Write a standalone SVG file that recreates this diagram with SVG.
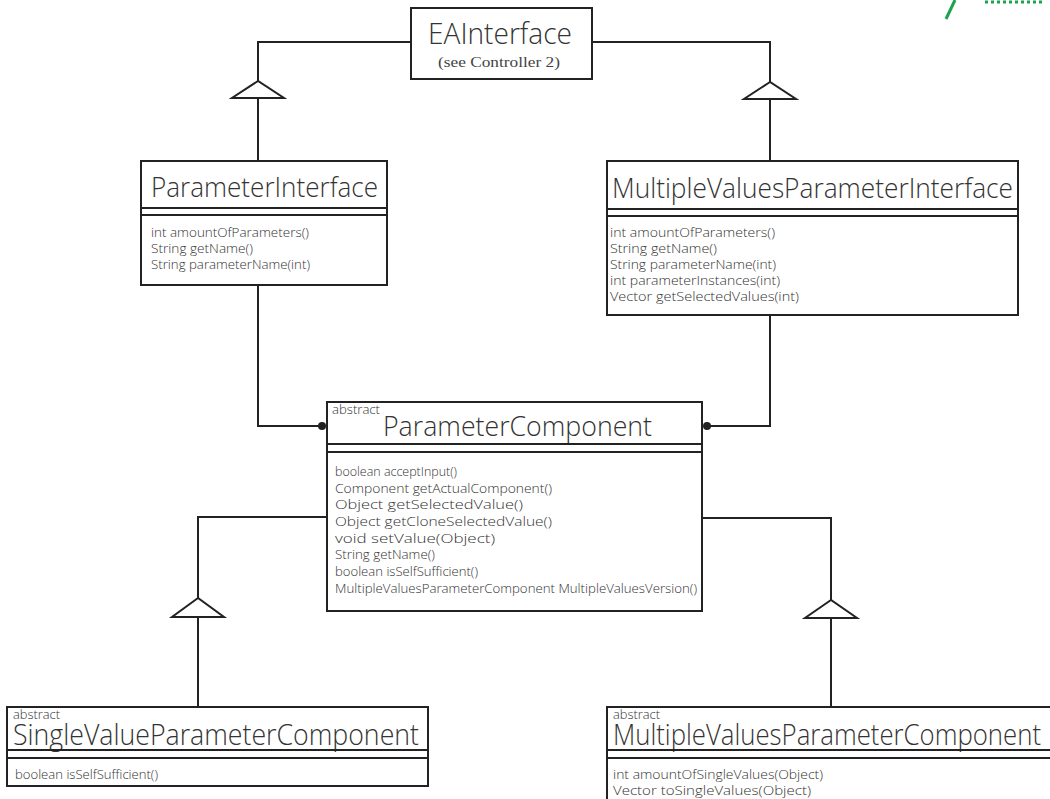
<svg xmlns="http://www.w3.org/2000/svg" width="1050" height="799" viewBox="0 0 1050 799">
<style>
.box{fill:#fff;stroke:#222;stroke-width:2}
.ln{fill:none;stroke:#222;stroke-width:2}
.tri{fill:#fff;stroke:#222;stroke-width:2;stroke-linejoin:miter}
.title{font-family:"Open Sans","Lato",sans-serif;font-weight:300;fill:#333}
.m{font-family:"Open Sans","Lato",sans-serif;font-weight:300;font-size:12.5px;fill:#333}
.abs{font-family:"Open Sans","Lato",sans-serif;font-weight:300;font-size:12px;fill:#333}
.serif{font-family:"Liberation Serif",serif;font-size:15px;font-weight:400;fill:#444}
.dot{fill:#222}
</style>
<rect width="1050" height="799" fill="#fff"/>
<g id="scribble">
<path d="M946 19 L955 0" fill="none" stroke="#1aa34a" stroke-width="3"/>
<path d="M985 2 H1042" fill="none" stroke="#1aa34a" stroke-width="3" stroke-dasharray="3 3"/>
</g>
<g id="connectors">
<path class="ln" d="M411 42 H258 V81"/>
<polygon class="tri" points="258,81 232,98 284,98"/>
<path class="ln" d="M258 98 V161"/>
<path class="ln" d="M592 42 H770 V82"/>
<polygon class="tri" points="770,82 744,99 796,99"/>
<path class="ln" d="M770 99 V161"/>
<path class="ln" d="M258 285 V426 H322"/>
<circle class="dot" cx="322" cy="426" r="4"/>
<path class="ln" d="M770 315 V426 H707"/>
<circle class="dot" cx="707" cy="426" r="4"/>
<path class="ln" d="M327 517 H198 V598"/>
<polygon class="tri" points="198,598 172,617 224,617"/>
<path class="ln" d="M198 617 V707"/>
<path class="ln" d="M702 518 H831 V600"/>
<polygon class="tri" points="831,600 805,618 857,618"/>
<path class="ln" d="M831 618 V707"/>
</g>
<g id="EAInterface">
<rect class="box" x="411" y="8" width="181" height="71"/>
<text class="title" x="428" y="44" font-size="30" textLength="144" lengthAdjust="spacingAndGlyphs">EAInterface</text>
<text class="serif" x="438" y="67" textLength="122" lengthAdjust="spacingAndGlyphs">(see Controller 2)</text>
</g>
<g id="ParameterInterface">
<rect class="box" x="141" y="161" width="246" height="124"/>
<text class="title" x="151" y="197" font-size="27" textLength="227" lengthAdjust="spacingAndGlyphs">ParameterInterface</text>
<path class="ln" d="M141 208 H387 M141 215 H387"/>
<text class="m" x="151" y="237" textLength="158" lengthAdjust="spacingAndGlyphs">int amountOfParameters()</text>
<text class="m" x="151" y="253" textLength="102" lengthAdjust="spacingAndGlyphs">String getName()</text>
<text class="m" x="151" y="269" textLength="159" lengthAdjust="spacingAndGlyphs">String parameterName(int)</text>
</g>
<g id="MultipleValuesParameterInterface">
<rect class="box" x="607" y="161" width="411" height="154"/>
<text class="title" x="612" y="198" font-size="28" textLength="401" lengthAdjust="spacingAndGlyphs">MultipleValuesParameterInterface</text>
<path class="ln" d="M607 209 H1018 M607 216 H1018"/>
<text class="m" x="610" y="237" textLength="165" lengthAdjust="spacingAndGlyphs">int amountOfParameters()</text>
<text class="m" x="610" y="253" textLength="107" lengthAdjust="spacingAndGlyphs">String getName()</text>
<text class="m" x="610" y="269" textLength="166" lengthAdjust="spacingAndGlyphs">String parameterName(int)</text>
<text class="m" x="610" y="285" textLength="170" lengthAdjust="spacingAndGlyphs">int parameterInstances(int)</text>
<text class="m" x="610" y="301" textLength="189" lengthAdjust="spacingAndGlyphs">Vector getSelectedValues(int)</text>
</g>
<g id="ParameterComponent">
<rect class="box" x="327" y="402" width="375" height="209"/>
<text class="abs" x="332" y="414" textLength="48" lengthAdjust="spacingAndGlyphs">abstract</text>
<text class="title" x="383" y="436" font-size="28" textLength="269" lengthAdjust="spacingAndGlyphs">ParameterComponent</text>
<path class="ln" d="M327 444 H702 M327 452 H702"/>
<text class="m" x="335" y="476" textLength="122" lengthAdjust="spacingAndGlyphs">boolean acceptInput()</text>
<text class="m" x="335" y="493" textLength="217" lengthAdjust="spacingAndGlyphs">Component getActualComponent()</text>
<text class="m" x="335" y="509" textLength="188" lengthAdjust="spacingAndGlyphs">Object getSelectedValue()</text>
<text class="m" x="335" y="526" textLength="217" lengthAdjust="spacingAndGlyphs">Object getCloneSelectedValue()</text>
<text class="m" x="335" y="543" textLength="160" lengthAdjust="spacingAndGlyphs">void setValue(Object)</text>
<text class="m" x="335" y="559" textLength="100" lengthAdjust="spacingAndGlyphs">String getName()</text>
<text class="m" x="335" y="576" textLength="143" lengthAdjust="spacingAndGlyphs">boolean isSelfSufficient()</text>
<text class="m" x="335" y="593" textLength="362" lengthAdjust="spacingAndGlyphs">MultipleValuesParameterComponent MultipleValuesVersion()</text>
</g>
<g id="SingleValueParameterComponent">
<rect class="box" x="7" y="707" width="421" height="79"/>
<text class="abs" x="13" y="719" textLength="47" lengthAdjust="spacingAndGlyphs">abstract</text>
<text class="title" x="13" y="745" font-size="29" textLength="406" lengthAdjust="spacingAndGlyphs">SingleValueParameterComponent</text>
<path class="ln" d="M7 750 H428 M7 758 H428"/>
<text class="m" x="15" y="779" textLength="143" lengthAdjust="spacingAndGlyphs">boolean isSelfSufficient()</text>
</g>
<g id="MultipleValuesParameterComponent">
<rect x="607" y="707" width="443" height="92" fill="#fff"/>
<path class="ln" d="M1050 707 H607 V799"/>
<text class="abs" x="613" y="719" textLength="47" lengthAdjust="spacingAndGlyphs">abstract</text>
<text class="title" x="613" y="745" font-size="29" textLength="428" lengthAdjust="spacingAndGlyphs">MultipleValuesParameterComponent</text>
<path class="ln" d="M607 750 H1050 M607 758 H1050"/>
<text class="m" x="613" y="779" textLength="210" lengthAdjust="spacingAndGlyphs">int amountOfSingleValues(Object)</text>
<text class="m" x="613" y="795" textLength="198" lengthAdjust="spacingAndGlyphs">Vector toSingleValues(Object)</text>
</g>
</svg>
